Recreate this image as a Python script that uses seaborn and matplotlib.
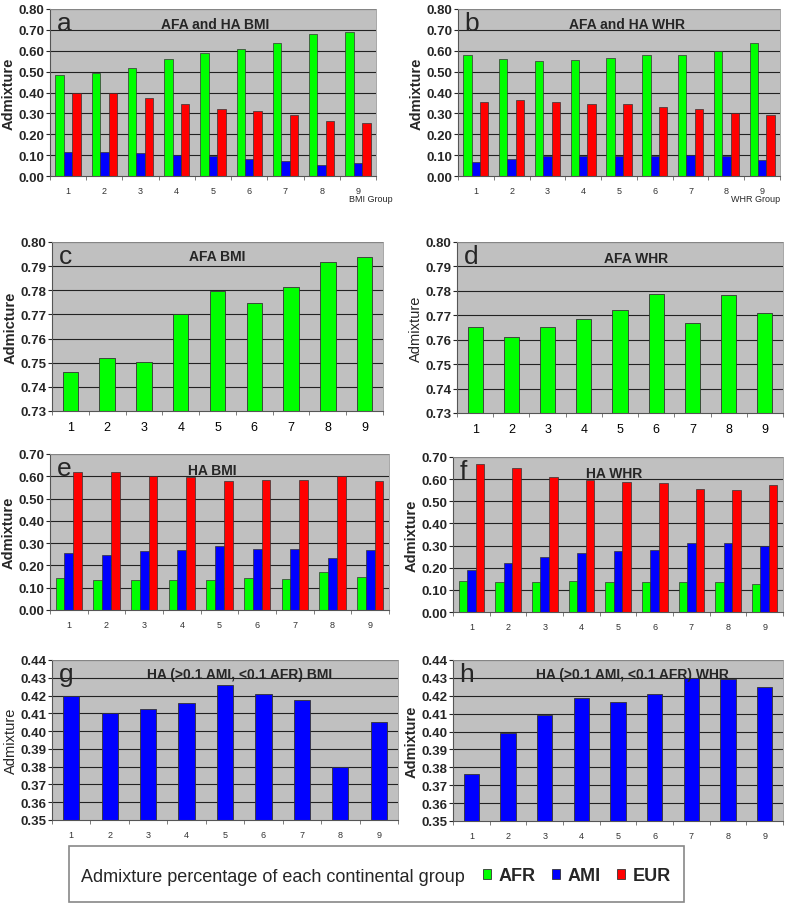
import numpy as np
import pandas as pd
import seaborn as sns
from matplotlib import pyplot as plt
from matplotlib.patches import Rectangle

sns.set_style('white')
plt.rcParams['font.family'] = ['Liberation Sans', 'DejaVu Sans']

groups = ['1', '2', '3', '4', '5', '6', '7', '8', '9']
pops = ['AFR', 'AMI', 'EUR']
pop_colors = {'AFR': '#00FF00', 'AMI': '#0000FF', 'EUR': '#FF0000'}

# a: AFA and HA BMI
a_afr = [0.483, 0.492, 0.518, 0.560, 0.588, 0.608, 0.637, 0.680, 0.688]
a_ami = [0.115, 0.115, 0.110, 0.100, 0.098, 0.082, 0.073, 0.053, 0.060]
a_eur = [0.400, 0.400, 0.375, 0.343, 0.322, 0.310, 0.292, 0.265, 0.255]
# b: AFA and HA WHR
b_afr = [0.580, 0.560, 0.553, 0.555, 0.565, 0.580, 0.580, 0.600, 0.638]
b_ami = [0.067, 0.083, 0.097, 0.098, 0.098, 0.098, 0.102, 0.097, 0.075]
b_eur = [0.355, 0.363, 0.355, 0.345, 0.343, 0.330, 0.320, 0.300, 0.292]
# c, d: AFA only
c_afr = [0.7461, 0.7518, 0.7505, 0.7702, 0.7795, 0.7748, 0.7813, 0.7916, 0.7939]
d_afr = [0.7654, 0.7613, 0.7654, 0.7684, 0.7723, 0.7786, 0.7670, 0.7781, 0.7709]
# e: HA BMI
e_afr = [0.145, 0.135, 0.135, 0.135, 0.135, 0.145, 0.140, 0.170, 0.150]
e_ami = [0.255, 0.245, 0.265, 0.270, 0.285, 0.273, 0.273, 0.233, 0.270]
e_eur = [0.620, 0.618, 0.600, 0.595, 0.578, 0.585, 0.585, 0.600, 0.578]
# f: HA WHR
f_afr = [0.140, 0.135, 0.135, 0.140, 0.135, 0.135, 0.135, 0.135, 0.125]
f_ami = [0.190, 0.220, 0.250, 0.265, 0.275, 0.280, 0.310, 0.313, 0.300]
f_eur = [0.670, 0.650, 0.610, 0.598, 0.588, 0.583, 0.555, 0.550, 0.575]
# g, h: HA (>0.1 AMI, <0.1 AFR), AMI only
g_ami = [0.4197, 0.4104, 0.4122, 0.4159, 0.4261, 0.4211, 0.4175, 0.3799, 0.4052]
h_ami = [0.3765, 0.3993, 0.4090, 0.4190, 0.4166, 0.4209, 0.4299, 0.4293, 0.4249]


def long_df(afr, ami, eur):
    return pd.DataFrame({
        'group': groups * 3,
        'pop': ['AFR'] * 9 + ['AMI'] * 9 + ['EUR'] * 9,
        'value': afr + ami + eur,
    })


def style_ax(ax, letter, title, ylabel, yticks, xfs, ylab_bold=True, title_x=0.5, title_y=0.955):
    ax.set_facecolor('#C0C0C0')
    ax.set_ylim(yticks[0], yticks[-1])
    ax.set_yticks(yticks)
    ax.set_yticklabels(['{:.2f}'.format(t) for t in yticks], fontsize=9.5, fontweight='bold')
    ax.set_xlim(-0.5, 8.5)
    ax.tick_params(axis='x', length=0, labelsize=xfs, labelcolor='#333333', pad=7)
    ax.tick_params(axis='y', length=3, width=0.8, pad=1, left=True)
    ax.set_xticks(np.arange(-0.5, 9, 1), minor=True)
    ax.tick_params(axis='x', which='minor', length=3, width=0.6, color='#666666', bottom=True)
    for t in yticks[1:]:
        ax.axhline(t, color='#222222', lw=0.8, zorder=0.5)
    for s in ['top', 'right']:
        ax.spines[s].set_color('#999999')
        ax.spines[s].set_linewidth(0.6)
    for s in ['left', 'bottom']:
        ax.spines[s].set_color('#555555')
        ax.spines[s].set_linewidth(0.8)
    ax.set_xlabel('')
    ax.set_ylabel(ylabel, fontsize=10.5, fontweight='bold' if ylab_bold else 'normal', labelpad=2)
    ax.text(0.02, 0.99, letter, transform=ax.transAxes, fontsize=19, va='top', ha='left')
    ax.text(title_x, title_y, title, transform=ax.transAxes, fontsize=10, fontweight='bold',
            va='top', ha='center')


fig = plt.figure(figsize=(8, 9.12), dpi=100)

H = 912.0
def pos(l, r, t, b):
    return [l / 800, 1 - b / H, (r - l) / 800, (b - t) / H]

ax_a = fig.add_axes(pos(50, 376, 10, 177))
ax_b = fig.add_axes(pos(458, 780, 10, 177))
ax_c = fig.add_axes(pos(52, 383, 243, 412))
ax_d = fig.add_axes(pos(457, 783, 243, 414))
ax_e = fig.add_axes(pos(50, 389, 455, 611))
ax_f = fig.add_axes(pos(453, 783, 458, 613))
ax_g = fig.add_axes(pos(52, 398, 661, 821))
ax_h = fig.add_axes(pos(453, 783, 661, 822))

edge = '#333333'
ticks8 = [round(0.1 * i, 2) for i in range(9)]
ticks7 = [round(0.1 * i, 2) for i in range(8)]
ticks_c = [round(0.73 + 0.01 * i, 2) for i in range(8)]
ticks_g = [round(0.35 + 0.01 * i, 2) for i in range(10)]

for ax, (afr, ami, eur) in [(ax_a, (a_afr, a_ami, a_eur)), (ax_b, (b_afr, b_ami, b_eur)),
                            (ax_e, (e_afr, e_ami, e_eur)), (ax_f, (f_afr, f_ami, f_eur))]:
    sns.barplot(data=long_df(afr, ami, eur), x='group', y='value', hue='pop',
                hue_order=pops, palette=pop_colors, width=0.7, saturation=1, edgecolor=edge,
                linewidth=0.5, ax=ax, legend=False, zorder=2)

bar_kw = dict(width=0.42, saturation=1, edgecolor=edge, linewidth=0.6, zorder=2)
sns.barplot(x=groups, y=c_afr, color='#00FF00', ax=ax_c, **bar_kw)
sns.barplot(x=groups, y=d_afr, color='#00FF00', ax=ax_d, **bar_kw)
sns.barplot(x=groups, y=g_ami, color='#0000FF', ax=ax_g, **bar_kw)
sns.barplot(x=groups, y=h_ami, color='#0000FF', ax=ax_h, **bar_kw)

style_ax(ax_a, 'a', 'AFA and HA BMI', 'Admixture', ticks8, 6.5, title_x=0.505)
style_ax(ax_b, 'b', 'AFA and HA WHR', 'Admixture', ticks8, 6.5, title_x=0.526)
style_ax(ax_c, 'c', 'AFA BMI', 'Admicture', ticks_c, 9, title_x=0.5, title_y=0.96)
style_ax(ax_d, 'd', 'AFA WHR', 'Admixture', ticks_c, 9, ylab_bold=False, title_x=0.55, title_y=0.95)
style_ax(ax_e, 'e', 'HA BMI', 'Admixture', ticks7, 6.5, title_x=0.478, title_y=0.94)
style_ax(ax_f, 'f', 'HA WHR', 'Admixture', ticks7, 6.5, title_x=0.488, title_y=0.94)
style_ax(ax_g, 'g', 'HA (>0.1 AMI, <0.1 AFR) BMI', 'Admixture', ticks_g, 6.5,
         ylab_bold=False, title_x=0.543)
style_ax(ax_h, 'h', 'HA (>0.1 AMI, <0.1 AFR) WHR', 'Admixture', ticks_g, 6.5, title_x=0.543)

for ax in [ax_c, ax_d]:
    ax.tick_params(axis='x', labelcolor='black')

ax_a.text(1.05, -0.11, 'BMI Group', transform=ax_a.transAxes, fontsize=6.5, ha='right', va='top')
ax_b.text(1.0, -0.11, 'WHR Group', transform=ax_b.transAxes, fontsize=6.5, ha='right', va='top')

# legend box at the bottom
fig.patches.append(Rectangle((69 / 800, 1 - 903 / H), 615 / 800, 56 / H, transform=fig.transFigure,
                             facecolor='white', edgecolor='#888888', lw=1.2))
fig.text(81 / 800, 1 - 878 / H, 'Admixture percentage of each continental group',
         fontsize=13, va='center', ha='left')
handles = [Rectangle((0, 0), 1, 1, facecolor=pop_colors[p], edgecolor=edge, lw=0.6) for p in pops]
leg = fig.legend(handles, pops, loc='center left', bbox_to_anchor=(483 / 800, 1 - 877 / H),
                 ncol=3, frameon=False, handlelength=0.42, handleheight=0.42, handletextpad=0.45,
                 columnspacing=0.9, borderpad=0, borderaxespad=0,
                 prop={'size': 13, 'weight': 'bold'})

plt.savefig('out.png', dpi=100)
